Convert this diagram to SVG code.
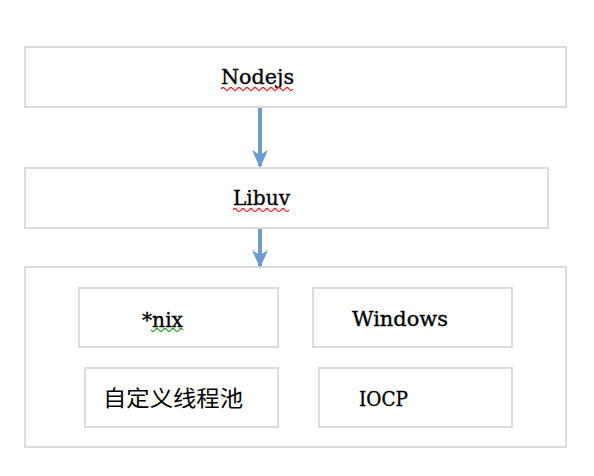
<svg xmlns="http://www.w3.org/2000/svg" width="594" height="476" viewBox="0 0 594 476">
<defs>
<style>
.box{fill:#fff;stroke:#dcdcdc;stroke-width:2}
.t{font-family:"DejaVu Serif","Liberation Serif",serif;font-size:21px;fill:#000;stroke:#000;stroke-width:0.35}
.cjk{font-family:"Noto Sans CJK SC","Noto Sans CJK JP",sans-serif;font-size:22px;fill:#000}
.arr{stroke:#6b9bd0;stroke-width:4;fill:none}
.sq{fill:none;stroke-width:1.3}
</style>
<marker id="ah" viewBox="0 0 18 16" refX="16" refY="8" markerWidth="18" markerHeight="16" orient="auto" markerUnits="userSpaceOnUse">
<path d="M0,0 L18,8 L0,16 L5,8 Z" fill="#6b9bd0"/>
</marker>
</defs>
<rect width="594" height="476" fill="#fff"/>
<g id="nodejs">
<rect class="box" x="25" y="47" width="541" height="60"/>
<text class="t" x="221" y="84" textLength="73" lengthAdjust="spacingAndGlyphs">Nodejs</text>
<path class="sq" stroke="#e82020" d="M221,89 q2,-3 4,0 t4,0 t4,0 t4,0 t4,0 t4,0 t4,0 t4,0 t4,0 t4,0 t4,0 t4,0 t4,0 t4,0 t4,0 t4,0 t4,0 t4,0"/>
</g>
<g id="libuv">
<rect class="box" x="25" y="168" width="523" height="60"/>
<text class="t" x="233" y="205" textLength="57" lengthAdjust="spacingAndGlyphs">Libuv</text>
<path class="sq" stroke="#e82020" d="M233,210 q2,-3 4,0 t4,0 t4,0 t4,0 t4,0 t4,0 t4,0 t4,0 t4,0 t4,0 t4,0 t4,0 t4,0 t4,0"/>
</g>
<g id="platform">
<rect class="box" x="25" y="267" width="541" height="180"/>
</g>
<g id="nix">
<rect class="box" x="79" y="288" width="199" height="59"/>
<text class="t" x="142" y="327" textLength="41" lengthAdjust="spacingAndGlyphs">*nix</text>
<path class="sq" stroke="#2a9a2a" d="M151,330 q2,3 4,0 t4,0 t4,0 t4,0 t4,0 t4,0 t4,0 t4,0"/>
</g>
<g id="windows">
<rect class="box" x="313" y="288" width="199" height="59"/>
<text class="t" x="352" y="326" textLength="96" lengthAdjust="spacingAndGlyphs">Windows</text>
</g>
<g id="threadpool">
<rect class="box" x="85" y="368" width="193" height="59"/>
<text class="cjk" x="103" y="406" textLength="140" lengthAdjust="spacingAndGlyphs">自定义线程池</text>
</g>
<g id="iocp">
<rect class="box" x="319" y="368" width="193" height="59"/>
<text class="t" x="359" y="406" textLength="49" lengthAdjust="spacingAndGlyphs">IOCP</text>
</g>
<g id="connectors">
<line class="arr" x1="260" y1="108" x2="260" y2="166" marker-end="url(#ah)"/>
<line class="arr" x1="260" y1="229" x2="260" y2="266" marker-end="url(#ah)"/>
</g>
</svg>
